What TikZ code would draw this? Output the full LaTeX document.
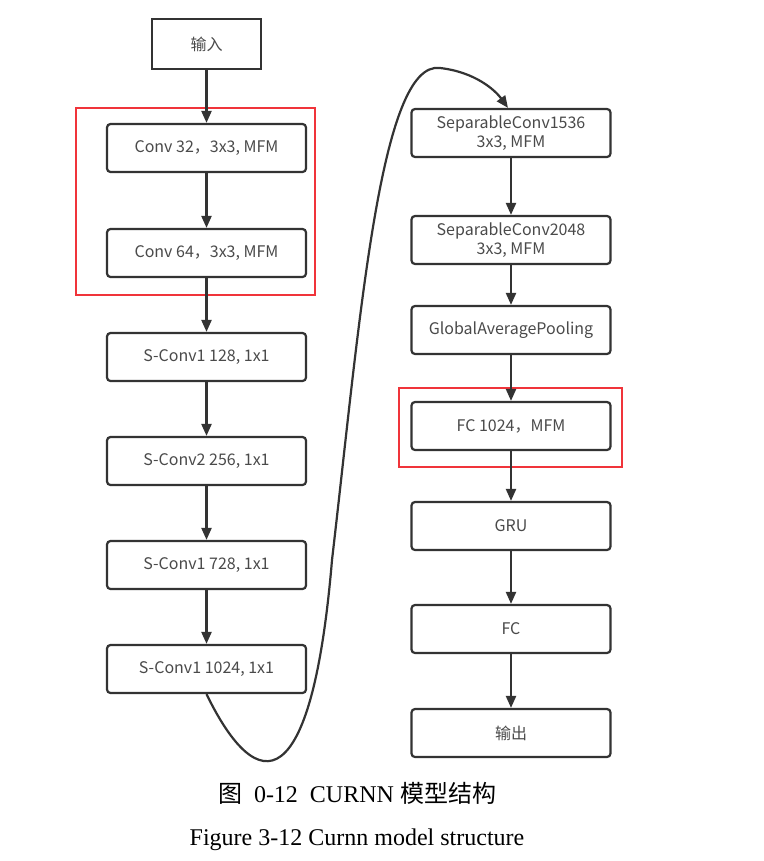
\documentclass[tikz,border=0pt]{standalone}
\usepackage{fontspec}
\usepackage{xcolor}
\usepackage{tikz}
\usetikzlibrary{arrows.meta}
\setmainfont{Liberation Serif}
\newfontfamily\cjk{Noto Sans CJK SC}
\definecolor{cLine}{HTML}{333333}
\definecolor{cText}{HTML}{4A4A4A}
\definecolor{cMark}{HTML}{F0343A}
\tikzset{
  >={Triangle[length=12pt,width=10pt]},
  blk/.style={draw=cLine,line width=2.2pt,rounded corners=3.5pt,align=center,
              text=cText,font=\cjk\fontsize{16}{19}\selectfont,
              minimum width=199pt,minimum height=48pt,inner sep=0pt},
  iobox/.style={blk,rounded corners=0pt,minimum width=109pt,minimum height=50pt},
  hilite/.style={draw=cMark,line width=2.6pt},
  flow/.style={->,line width=2.2pt,cLine},
  captxt/.style={font=\fontsize{24}{28}\selectfont,text=black},
}
\begin{document}
\begin{tikzpicture}[x=1pt,y=-1pt]
  \useasboundingbox[fill=white] (0,0) rectangle (763,861);
  % left column
  \node[iobox] (in)   at (206.5,44)  {输入};
  \node[blk]   (c32)  at (206.5,148) {Conv 32，3x3, MFM};
  \node[blk]   (c64)  at (206.5,253) {Conv 64，3x3, MFM};
  \node[blk]   (s128) at (206.5,357) {S-Conv1 128, 1x1};
  \node[blk]   (s256) at (206.5,461) {S-Conv2 256, 1x1};
  \node[blk]   (s728) at (206.5,565) {S-Conv1 728, 1x1};
  \node[blk]   (s1024) at (206.5,669) {S-Conv1 1024, 1x1};
  % right column
  \node[blk] (sep1) at (511,133) {SeparableConv1536\\3x3, MFM};
  \node[blk] (sep2) at (511,240) {SeparableConv2048\\3x3, MFM};
  \node[blk] (gap)  at (511,330) {GlobalAveragePooling};
  \node[blk] (fc1)  at (511,426) {FC 1024，MFM};
  \node[blk] (gru)  at (511,526) {GRU};
  \node[blk] (fc)   at (511,629) {FC};
  \node[blk] (out)  at (511,733) {输出};
  % highlighted groups
  \draw[hilite] (76,108) rectangle (315,295);
  \draw[hilite] (399,388) rectangle (622,467);
  % connectors
  \foreach \a/\b in {in/c32,c32/c64,c64/s128,s128/s256,s256/s728,s728/s1024,
                     sep1/sep2,sep2/gap,gap/fc1,fc1/gru,gru/fc,fc/out}
    \draw[flow] (\a.south) -- (\b.north);
  \draw[flow] (s1024.south) .. controls (258,800) and (312,798) .. (332,560)
    .. controls (360,320) and (380,60) .. (440,68)
    .. controls (475,72) and (495,90) .. ([xshift=-3pt]sep1.north);
  % captions
  \node[captxt] (capcn) at (357,793) {{\cjk 图}\ \ 0-12\ \ CURNN {\cjk 模型结构}};
  \node[captxt] (capen) at (357,840) {Figure 3-12 Curnn model structure};
\end{tikzpicture}
\end{document}
